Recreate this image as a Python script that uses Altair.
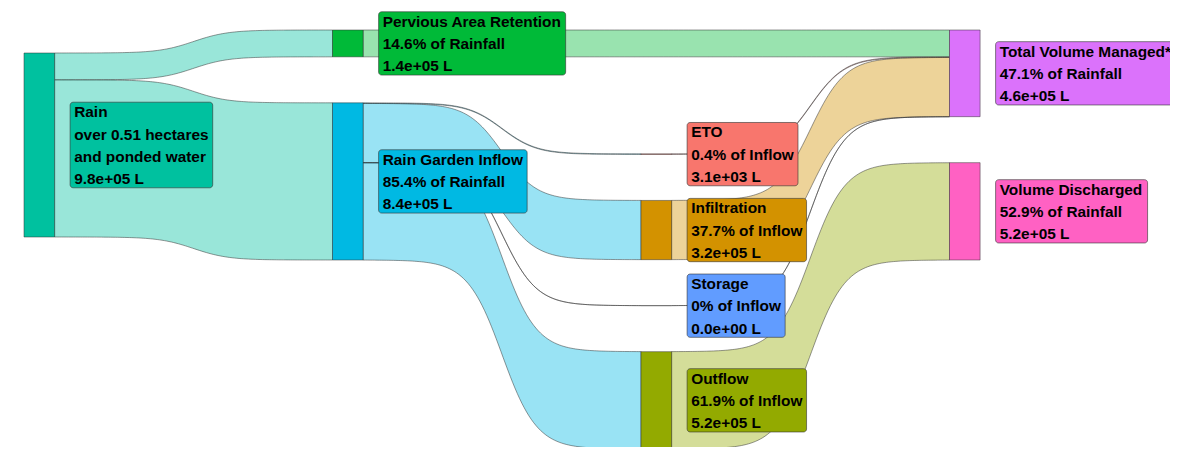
import numpy as np
import pandas as pd
import altair as alt

# ---------------- data ----------------
node_names = ["Rain", "Pervious Area Retention", "Rain Garden Inflow", "ETO",
              "Infiltration", "Storage", "Outflow",
              "Total Volume Managed*", "Volume Discharged"]
node_stage = [0, 1, 1, 2, 2, 2, 2, 3, 3]
node_colors = ["#00C19F", "#00BA38", "#00B9E3", "#F8766D", "#D39200",
               "#619CFF", "#93AA00", "#DB72FB", "#FF61C3"]

link_source = ["Rain", "Rain",
               "Rain Garden Inflow", "Rain Garden Inflow", "Rain Garden Inflow", "Rain Garden Inflow",
               "Pervious Area Retention", "ETO", "Infiltration", "Storage", "Outflow"]
link_target = ["Pervious Area Retention", "Rain Garden Inflow",
               "ETO", "Infiltration", "Storage", "Outflow",
               "Total Volume Managed*", "Total Volume Managed*", "Total Volume Managed*",
               "Total Volume Managed*", "Volume Discharged"]
link_value = [143000, 837000,
              3100, 315500, 0, 518400,
              143000, 3100, 315500, 0, 518400]   # litres

label_line1 = ["Rain", "Pervious Area Retention", "Rain Garden Inflow", "ETO",
               "Infiltration", "Storage", "Outflow", "Total Volume Managed*", "Volume Discharged"]
label_line2 = ["over 0.51 hectares", "14.6% of Rainfall", "85.4% of Rainfall", "0.4% of Inflow",
               "37.7% of Inflow", "0% of Inflow", "61.9% of Inflow", "47.1% of Rainfall",
               "52.9% of Rainfall"]
label_line3 = ["and ponded water", "1.4e+05 L", "8.4e+05 L", "3.1e+03 L", "3.2e+05 L",
               "0.0e+00 L", "5.2e+05 L", "4.6e+05 L", "5.2e+05 L"]
label_line4 = ["9.8e+05 L", "", "", "", "", "", "", "", ""]

# ---------------- layout parameters ----------------
PAGE_OFF = 8
W, H = 1162, 439
X0, STEP, NODE_W = 24.0, 308.5, 30.6
PX_PER_L = 184.0 / 980000.0
PAD = 46.0
Y_TOP, Y_BOTTOM = 30.0, 449.0
STAGE_ALIGN = {0: "center", 1: "top", 2: "bottom", 3: "top"}
SMOOTH = 8.0
FONT = "Liberation Sans"
FONT_SIZE = 15.4
LINE_H = 22.3
BOX_PAD_X = 4.1
LABEL_GAP = 15.5

# Helvetica-Bold advance widths (per 1000 em)
HB = {" ": 278, "%": 889, "*": 389, "+": 584, ".": 278, "A": 722, "D": 722, "E": 667,
      "G": 778, "I": 278, "L": 611, "M": 833, "O": 778, "P": 667, "R": 722, "S": 667,
      "T": 611, "V": 667, "a": 556, "c": 556, "d": 611, "e": 556, "f": 333, "g": 611,
      "h": 611, "i": 278, "l": 278, "m": 889, "n": 611, "o": 611, "p": 611, "r": 389,
      "s": 556, "t": 333, "u": 611, "v": 556, "w": 778, "y": 556}


def text_w(s):
    return sum(HB.get(c, 556) for c in s) / 1000.0 * FONT_SIZE


# ---------------- sankey layout ----------------
n = len(node_names)
idx = {nm: i for i, nm in enumerate(node_names)}
src = [idx[s] for s in link_source]
tgt = [idx[t] for t in link_target]
v_in = np.zeros(n)
v_out = np.zeros(n)
for s, t, v in zip(src, tgt, link_value):
    v_out[s] += v
    v_in[t] += v
node_h = np.maximum(v_in, v_out) * PX_PER_L
node_top = np.zeros(n)
node_x = np.array([X0 + STEP * st for st in node_stage])


def stack(stage, start):
    y = start
    for i in range(n):
        if node_stage[i] == stage:
            node_top[i] = y
            y += node_h[i] + PAD


def stage_total(stage):
    members = [i for i in range(n) if node_stage[i] == stage]
    return sum(node_h[i] for i in members) + PAD * (len(members) - 1)


for st in [1, 2, 3, 0]:
    if STAGE_ALIGN[st] == "top":
        stack(st, Y_TOP)
    elif STAGE_ALIGN[st] == "bottom":
        stack(st, Y_BOTTOM - stage_total(st))
    else:
        tg = sorted({tgt[k] for k in range(len(src)) if node_stage[src[k]] == st})
        lo = min(node_top[i] for i in tg)
        hi = max(node_top[i] + node_h[i] for i in tg)
        stack(st, (lo + hi) / 2 - stage_total(st) / 2)

L = len(src)
ls_y = np.zeros(L)
lt_y = np.zeros(L)
for i in range(n):
    outs = sorted([k for k in range(L) if src[k] == i], key=lambda k: node_top[tgt[k]])
    y = node_top[i]
    for k in outs:
        ls_y[k] = y
        y += link_value[k] * PX_PER_L
    ins = sorted([k for k in range(L) if tgt[k] == i], key=lambda k: node_top[src[k]])
    y = node_top[i]
    for k in ins:
        lt_y[k] = y
        y += link_value[k] * PX_PER_L

rows = []
tt = np.linspace(-SMOOTH, SMOOTH, 120)
sig = 1.0 / (1.0 + np.exp(-tt))
for k in range(L):
    xa = node_x[src[k]] + NODE_W
    xb = node_x[tgt[k]]
    wpx = link_value[k] * PX_PER_L
    xs = xa + (tt + SMOOTH) / (2 * SMOOTH) * (xb - xa)
    ytop = ls_y[k] + sig * (lt_y[k] - ls_y[k])
    for xx, yy in zip(xs, ytop):
        rows.append({"link": f"L{k:02d}", "x": xx, "y0": yy, "y1": yy + wpx,
                     "color": node_colors[src[k]]})
link_df = pd.DataFrame(rows)

node_df = pd.DataFrame({
    "name": node_names,
    "x0": node_x, "x1": node_x + NODE_W,
    "y0": node_top, "y1": node_top + node_h,
    "color": node_colors,
})

box_rows, txt_rows = [], []
for i in range(n):
    lines = [l for l in (label_line1[i], label_line2[i], label_line3[i], label_line4[i]) if l]
    bw = max(text_w(l) for l in lines) + 2 * BOX_PAD_X
    bh = (len(lines) - 1) * LINE_H + 18.7
    bx = node_x[i] + NODE_W + LABEL_GAP
    cy = node_top[i] + node_h[i] / 2
    by = cy - bh / 2
    box_rows.append({"x0": bx, "x1": bx + bw, "y0": by, "y1": by + bh, "color": node_colors[i]})
    for j, l in enumerate(lines):
        txt_rows.append({"x": bx + BOX_PAD_X, "y": by + 15.0 + j * LINE_H, "text": l})
box_df = pd.DataFrame(box_rows)
txt_df = pd.DataFrame(txt_rows)

# ---------------- chart ----------------
xs = alt.Scale(domain=[PAGE_OFF, PAGE_OFF + W], nice=False, zero=False)
ys = alt.Scale(domain=[PAGE_OFF, PAGE_OFF + H], nice=False, zero=False, reverse=True)

links = alt.Chart(link_df).mark_area(
    orient="vertical", fillOpacity=0.4, stroke="#333333", strokeWidth=0.6, strokeOpacity=0.85
).encode(
    x=alt.X("x:Q", scale=xs, axis=None),
    y=alt.Y("y0:Q", scale=ys, axis=None),
    y2="y1:Q",
    detail="link:N",
    fill=alt.Fill("color:N", scale=None),
)

nodes = alt.Chart(node_df).mark_rect(stroke="#333333", strokeWidth=0.5).encode(
    x=alt.X("x0:Q", scale=xs, axis=None), x2="x1:Q",
    y=alt.Y("y0:Q", scale=ys, axis=None), y2="y1:Q",
    fill=alt.Fill("color:N", scale=None),
)

boxes = alt.Chart(box_df).mark_rect(cornerRadius=3, stroke="#333333", strokeWidth=0.6).encode(
    x=alt.X("x0:Q", scale=xs, axis=None), x2="x1:Q",
    y=alt.Y("y0:Q", scale=ys, axis=None), y2="y1:Q",
    fill=alt.Fill("color:N", scale=None),
)

texts = alt.Chart(txt_df).mark_text(
    align="left", baseline="alphabetic", font=FONT, fontWeight="bold",
    fontSize=FONT_SIZE, color="#000000"
).encode(
    x=alt.X("x:Q", scale=xs, axis=None),
    y=alt.Y("y:Q", scale=ys, axis=None),
    text="text:N",
)

chart = alt.layer(links, nodes, boxes, texts).properties(
    width=W, height=H, padding=0, autosize=alt.AutoSizeParams(type="none")
).configure_view(stroke=None)

chart.save("out.html", embed_options={"renderer": "svg", "actions": False})
